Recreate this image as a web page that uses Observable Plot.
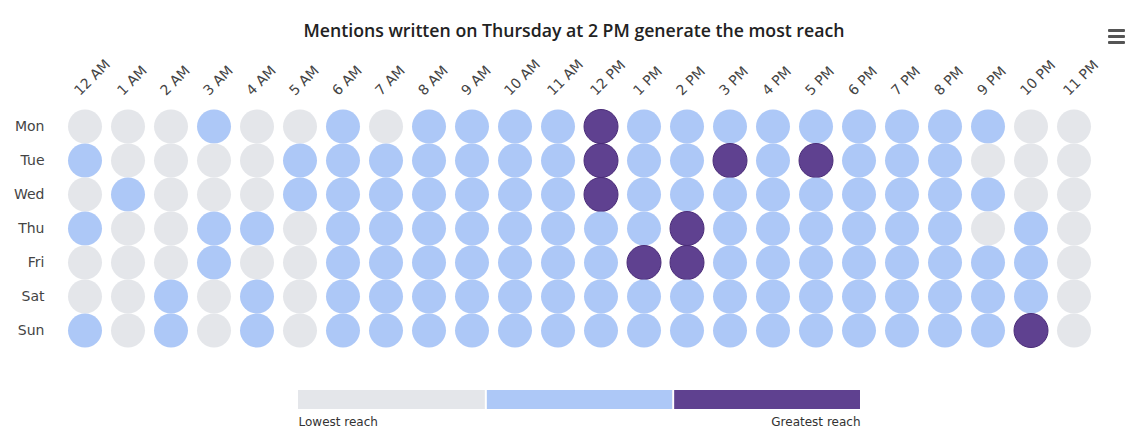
<!DOCTYPE html>
<html>
<head>
<meta charset="utf-8">
<script src="https://cdn.jsdelivr.net/npm/d3@7"></script>
<script src="https://cdn.jsdelivr.net/npm/@observablehq/plot@0.6"></script>
<style>
  html, body { margin: 0; padding: 0; background: #fff; }
  #wrap { position: relative; width: 1140px; height: 439px; overflow: hidden; font-family: "DejaVu Sans", sans-serif; }
  #title { position: absolute; top: 18px; left: 0; width: 1148px; text-align: center; font-family: "Open Sans", sans-serif; font-weight: 600; font-size: 17.7px; color: #222; }
  #menu { position: absolute; left: 1108px; top: 29px; width: 17px; }
  #menu div { height: 3px; background: #555; margin-bottom: 3px; border-radius: 1px; }
  #main { position: absolute; top: 0; left: 0; }
  #legend { position: absolute; top: 380px; left: 0; }
</style>
</head>
<body>
<div id="wrap">
  <div id="title">Mentions written on Thursday at 2 PM generate the most reach</div>
  <div id="menu"><div></div><div></div><div></div></div>
  <div id="main"></div>
  <div id="legend"></div>
</div>
<script>
const days = ["Mon", "Tue", "Wed", "Thu", "Fri", "Sat", "Sun"];
const hours = ["12 AM","1 AM","2 AM","3 AM","4 AM","5 AM","6 AM","7 AM","8 AM","9 AM","10 AM","11 AM",
               "12 PM","1 PM","2 PM","3 PM","4 PM","5 PM","6 PM","7 PM","8 PM","9 PM","10 PM","11 PM"];
// reach level: 0 = low, 1 = medium, 2 = greatest
const mon = [0,0,0,1,0,0,1,0,1,1,1,1,2,1,1,1,1,1,1,1,1,1,0,0];
const tue = [1,0,0,0,0,1,1,1,1,1,1,1,2,1,1,2,1,2,1,1,1,0,0,0];
const wed = [0,1,0,0,0,1,1,1,1,1,1,1,2,1,1,1,1,1,1,1,1,1,0,0];
const thu = [1,0,0,1,1,0,1,1,1,1,1,1,1,1,2,1,1,1,1,1,1,0,1,0];
const fri = [0,0,0,1,0,0,1,1,1,1,1,1,1,2,2,1,1,1,1,1,1,1,1,0];
const sat = [0,0,1,0,1,0,1,1,1,1,1,1,1,1,1,1,1,1,1,1,1,1,1,0];
const sun = [1,0,1,0,1,0,1,1,1,1,1,1,1,1,1,1,1,1,1,1,1,1,2,0];
const levels = [0, 1, 2];
const levelColors = ["#e4e6ea", "#adc8f7", "#5f4190"];
const legendLabels = ["Lowest reach", "Greatest reach"];

const rows = [mon, tue, wed, thu, fri, sat, sun];
const cells = [];
rows.forEach((r, di) => r.forEach((v, hi) => cells.push({day: days[di], hour: hours[hi], level: v})));

const main = Plot.plot({
  width: 1140,
  height: 360,
  marginLeft: 60,
  marginRight: 41.4,
  marginTop: 106.75,
  marginBottom: 11.75,
  style: {fontFamily: "'DejaVu Sans', sans-serif", color: "#333", background: "transparent"},
  x: {type: "band", domain: hours, padding: 0, axis: null},
  y: {type: "band", domain: days, padding: 0, axis: null},
  color: {type: "ordinal", domain: levels, range: levelColors},
  marks: [
    Plot.dot(cells, {x: "hour", y: "day", r: 17, fill: "level",
      stroke: d => d.level === 2 ? "#4a2c78" : "none", strokeWidth: 1}),
    Plot.text(hours, {x: d => d, frameAnchor: "top", dy: -11, dx: -5, rotate: -45,
      textAnchor: "start", lineAnchor: "bottom", fontSize: 14, fill: "#444"}),
    Plot.text(days, {y: d => d, frameAnchor: "left", dx: -16, textAnchor: "end", fontSize: 14, fill: "#444"})
  ]
});
document.getElementById("main").appendChild(main);

const legendData = levels.map((l, i) => ({level: l, i}));
const legend = Plot.plot({
  width: 1140,
  height: 59,
  marginLeft: 298,
  marginRight: 280,
  marginTop: 10,
  marginBottom: 30,
  style: {fontFamily: "'DejaVu Sans', sans-serif", background: "transparent"},
  x: {domain: [0, levels.length], axis: null},
  y: {domain: [0, 1], axis: null},
  color: {type: "ordinal", domain: levels, range: levelColors},
  marks: [
    Plot.rect(legendData, {x1: "i", x2: d => d.i + 1, y1: 0, y2: 1, fill: "level"}),
    Plot.ruleX([1, 2], {y1: 0, y2: 1, stroke: "#fff", strokeWidth: 2}),
    Plot.text([legendLabels[0]], {x: 0, frameAnchor: "bottom", dy: 16, textAnchor: "start", fontSize: 12, fill: "#333"}),
    Plot.text([legendLabels[1]], {x: levels.length, frameAnchor: "bottom", dy: 16, textAnchor: "end", fontSize: 12, fill: "#333"})
  ]
});
document.getElementById("legend").appendChild(legend);
</script>
</body>
</html>
